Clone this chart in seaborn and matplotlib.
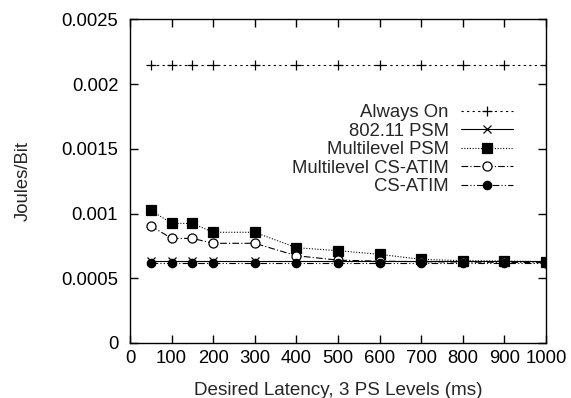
import pandas as pd
import matplotlib
matplotlib.use('Agg')
import matplotlib.pyplot as plt
import seaborn as sns

# Values
latency = [50, 100, 150, 200, 300, 400, 500, 600, 700, 800, 900, 1000]
always_on = [0.00215, 0.00215, 0.00215, 0.00215, 0.00215, 0.00215,
             0.00215, 0.00215, 0.00215, 0.00215, 0.00215, 0.00215]
psm_80211 = [0.00063, 0.00063, 0.00063, 0.00063, 0.00063, 0.00063,
             0.00063, 0.00063, 0.00063, 0.00063, 0.00063, 0.00063]
multilevel_psm = [0.001025, 0.000924, 0.000924, 0.000855, 0.000855, 0.000736,
                  0.000713, 0.000685, 0.000646, 0.000636, 0.000633, 0.000628]
multilevel_cs_atim = [0.000904, 0.000808, 0.000808, 0.00077, 0.00077, 0.000674,
                      0.00064, 0.000632, 0.000628, 0.000625, 0.000623, 0.00062]
cs_atim = [0.00062, 0.00062, 0.00062, 0.00062, 0.00062, 0.00062,
           0.00062, 0.00062, 0.00062, 0.00062, 0.00062, 0.00062]

series_names = ['Always On', '802.11 PSM', 'Multilevel PSM', 'Multilevel CS-ATIM', 'CS-ATIM']
series_vals = [always_on, psm_80211, multilevel_psm, multilevel_cs_atim, cs_atim]

# line style per series (gnuplot-ish)
styles = {
    'Always On': dict(dashes=(2, 3), marker='+', mfc='black', ms=7),
    '802.11 PSM': dict(dashes=(), marker='x', mfc='black', ms=6),
    'Multilevel PSM': dict(dashes=(1, 1.5), marker='s', mfc='black', ms=6.5),
    'Multilevel CS-ATIM': dict(dashes=(6, 2, 1, 2), marker='o', mfc='white', ms=6.5),
    'CS-ATIM': dict(dashes=(6, 2, 1, 2, 1, 2), marker='o', mfc='black', ms=6),
}

sns.set_style('ticks')
plt.rcParams['font.family'] = ['Liberation Sans', 'DejaVu Sans']
plt.rcParams['font.size'] = 13.3

fig = plt.figure(figsize=(5.71, 3.98), dpi=100)
ax = fig.add_axes([0.2277, 0.1382, 0.7283, 0.8133])

for name, vals in zip(series_names, series_vals):
    st = styles[name]
    d = pd.DataFrame({'latency': latency, 'jpb': vals})
    sns.lineplot(data=d, x='latency', y='jpb', ax=ax, color='black', linewidth=0.8,
                 marker=st['marker'], markersize=st['ms'], markeredgewidth=0.9,
                 markeredgecolor='black', markerfacecolor=st['mfc'], label=name)
    line = ax.lines[-1]
    if st['dashes']:
        line.set_dashes(st['dashes'])
    else:
        line.set_linestyle('-')

ax.set_xlim(0, 1000)
ax.set_ylim(0, 0.0025)
ax.set_xticks(range(0, 1001, 100))
ax.set_yticks([0, 0.0005, 0.001, 0.0015, 0.002, 0.0025])
ax.set_yticklabels(['0', '0.0005', '0.001', '0.0015', '0.002', '0.0025'])
ax.tick_params(direction='in', length=6, width=1, top=True, right=True,
               labelsize=13.3, color='black', labelcolor='black')
ax.tick_params(axis='x', pad=5)
ax.tick_params(axis='y', pad=8.5)
for s in ax.spines.values():
    s.set_linewidth(1)
    s.set_color('black')
    s.set_visible(True)

ax.set_xlabel('Desired Latency, 3 PS Levels (ms)', fontsize=13.6, labelpad=11)
ax.set_ylabel('Joules/Bit', fontsize=13.3, labelpad=21)

handles, labels = ax.get_legend_handles_labels()
leg = ax.legend(handles, labels, loc='upper right', bbox_to_anchor=(0.921, 0.737),
                frameon=False, markerfirst=False, borderpad=0, borderaxespad=0,
                handlelength=2.83, handletextpad=0.65, labelspacing=0.08, fontsize=13.3)
leg._legend_box.align = 'right'
for p in leg.get_children()[0].get_children()[1].get_children()[0].get_children():
    p.align = 'right'

fig.savefig('out.png', dpi=100)
